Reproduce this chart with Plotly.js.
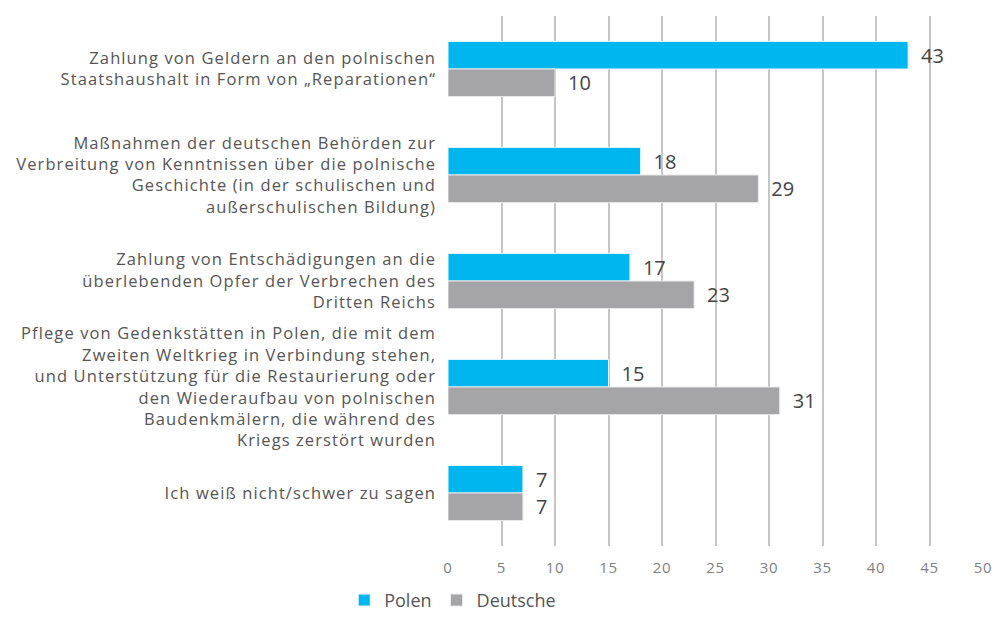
<!DOCTYPE html>
<html>
<head>
<meta charset="utf-8">
<script src="https://cdn.plot.ly/plotly-3.0.1.min.js"></script>
<style>
body{margin:0;padding:0;background:#fff;}
#chart{width:996px;height:619px;}
#chart .ytick text{letter-spacing:1.1px;}
#chart .xtick text{letter-spacing:0.8px;}
</style>
</head>
<body>
<div id="chart"></div>
<script>
const categories = [
  "Zahlung von Geldern an den polnischen<br>Staatshaushalt in Form von „Reparationen“",
  "Maßnahmen der deutschen Behörden zur<br>Verbreitung von Kenntnissen über die polnische<br>Geschichte (in der schulischen und<br>außerschulischen Bildung)",
  "Zahlung von Entschädigungen an die<br>überlebenden Opfer der Verbrechen des<br>Dritten Reichs",
  "Pflege von Gedenkstätten in Polen, die mit dem<br>Zweiten Weltkrieg in Verbindung stehen,<br>und Unterstützung für die Restaurierung oder<br>den Wiederaufbau von polnischen<br>Baudenkmälern, die während des<br>Kriegs zerstört wurden",
  "Ich weiß nicht/schwer zu sagen"
];
const polen = [43, 18, 17, 15, 7];
const deutsche = [10, 29, 23, 31, 7];
const xTicks = [0, 5, 10, 15, 20, 25, 30, 35, 40, 45, 50];

const font = "Open Sans, Noto Sans, sans-serif";
const labelText = v => '\u2002' + v;
const traces = [
  {type: 'bar', orientation: 'h', name: 'Polen', y: categories, x: polen,
   marker: {color: '#00B6EE', line: {color: '#E6F6FC', width: 1}},
   text: polen.map(labelText), textposition: 'outside', cliponaxis: false,
   textfont: {size: 20, color: '#444', family: font}},
  {type: 'bar', orientation: 'h', name: 'Deutsche', y: categories, x: deutsche,
   marker: {color: '#A5A5A8', line: {color: '#E8E8E8', width: 1}},
   text: deutsche.map(labelText), textposition: 'outside', cliponaxis: false,
   textfont: {size: 20, color: '#444', family: font}}
];
const layout = {
  width: 996, height: 619,
  margin: {l: 448, r: 13, t: 16, b: 73, autoexpand: false},
  paper_bgcolor: '#fff', plot_bgcolor: '#fff',
  barmode: 'group', bargap: 0.48, bargroupgap: 0,
  font: {family: font, color: '#555'},
  xaxis: {range: [0, 50], tickvals: xTicks, ticktext: xTicks.map(String),
          showgrid: true, gridcolor: '#C6C6C6', gridwidth: 1.6, zeroline: false,
          showline: false, tickfont: {size: 15, color: '#808080'}, ticks: '', ticklen: 0,
          ticklabelstandoff: 11, automargin: false},
  yaxis: {autorange: 'reversed', tickfont: {size: 16.5, color: '#555'}, ticks: '',
          showline: false, showgrid: false, ticklabelstandoff: 11, automargin: false},
  legend: {orientation: 'h', x: -0.194, xanchor: 'left', y: -0.1375, yanchor: 'bottom',
           font: {size: 18, color: '#555'}, traceorder: 'normal'},
  showlegend: true
};
Plotly.newPlot('chart', traces, layout, {displayModeBar: false});
</script>
</body>
</html>
